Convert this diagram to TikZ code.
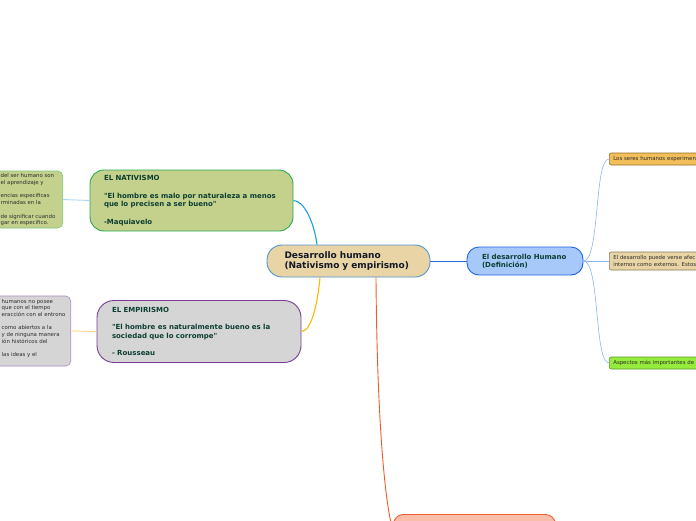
\documentclass[tikz,border=0pt]{standalone}
\usepackage{fontspec}
\setmainfont{DejaVu Sans}
\definecolor{inkgreen}{RGB}{12, 62, 50}
\definecolor{inkgray}{RGB}{45, 45, 45}
\definecolor{cenink}{RGB}{20, 25, 40}
\definecolor{cenfill}{RGB}{232, 212, 164}
\definecolor{cenline}{RGB}{80, 150, 210}
\definecolor{natfill}{RGB}{196, 209, 140}
\definecolor{natline}{RGB}{40, 170, 80}
\definecolor{natpale}{RGB}{120, 200, 120}
\definecolor{empfill}{RGB}{213, 213, 213}
\definecolor{empline}{RGB}{120, 60, 150}
\definecolor{emppale}{RGB}{170, 140, 190}
\definecolor{defifill}{RGB}{166, 201, 250}
\definecolor{defiline}{RGB}{30, 100, 220}
\definecolor{salfill}{RGB}{248, 190, 170}
\definecolor{salline}{RGB}{240, 95, 50}
\definecolor{topfill}{RGB}{242, 190, 90}
\definecolor{topline}{RGB}{150, 110, 40}
\definecolor{midline}{RGB}{140, 120, 90}
\definecolor{botfill}{RGB}{150, 235, 60}
\definecolor{botline}{RGB}{90, 150, 40}
\definecolor{natlink}{RGB}{27, 160, 225}
\definecolor{emplink}{RGB}{250, 185, 0}
\definecolor{sallink}{RGB}{240, 90, 40}
\definecolor{defilink}{RGB}{35, 110, 220}
\definecolor{leaflink}{RGB}{140, 180, 240}
\definecolor{natleaflink}{RGB}{170, 215, 240}
\definecolor{empleaflink}{RGB}{250, 215, 130}
\usetikzlibrary{arrows.meta, positioning}

\begin{document}
\begin{tikzpicture}[x=1pt, y=-1pt,
            b/.style={rounded corners=14pt, line width=0.9pt,
                      font=\fontsize{7}{8.7}\selectfont\bfseries, text=inkgreen,
                      align=left, inner ysep=0pt},
            nt/.style={font=\fontsize{5.4}{6.7}\selectfont, text=inkgray,
                       align=left, inner sep=0pt, anchor=west},
            lf/.style={rounded corners=2pt, line width=0.6pt,
                       font=\fontsize{5.4}{7}\selectfont, text=inkgray, align=left,
                       inner xsep=4pt, inner ysep=0pt, text width=100pt, anchor=west},
            a/.style={line width=1.1pt}
          ]
          \useasboundingbox (0,0) rectangle (696,520);
          \clip (0,0) rectangle (696,520);
          \node[b, fill=cenfill, draw=cenline, rounded corners=15pt, minimum height=32pt,
                text width=128pt, inner xsep=17.5pt, text=cenink,
                font=\fontsize{9}{9.5}\selectfont\bfseries] (cen) at (348.5,261)
                {Desarrollo humano\\(Nativismo y empirismo)};
          \node[b, fill=natfill, draw=natline, minimum height=61pt,
                text width=175pt, inner xsep=14pt] (nat) at (191.5,200.5)
                {EL NATIVISMO\\[8.7pt]\textquotedbl El hombre es malo por naturaleza a menos\\que lo precisen a ser bueno\textquotedbl\\[8.7pt]-Maquiavelo};
          \node[b, fill=empfill, draw=empline, rounded corners=17pt, minimum height=62pt,
                text width=174pt, inner xsep=15pt] (emp) at (199,331.5)
                {EL EMPIRISMO\\[8.6pt]\textquotedbl El hombre es naturalmente bueno es la\\sociedad que lo corrompe\textquotedbl\\[8.6pt]- Rousseau};
          \node[b, fill=defifill, draw=defiline, rounded corners=12pt, minimum height=28pt,
                text width=86pt, inner xsep=15pt, font=\fontsize{7}{8}\selectfont\bfseries] (defi) at (525,261)
                {El desarrollo Humano\\(Definición)};
          \node[draw=natpale, fill=natfill, rounded corners=5pt, line width=0.6pt,
                minimum width=90pt, minimum height=57pt, anchor=east] (natleaf) at (63,199.5) {};
          \node[nt] (natnote) at (0.5,199.8)
                {del ser humano son\\el aprendizaje y\\[6.7pt]encias especificas\\rminadas en la\\[6.7pt]de significar cuando\\gar en especifico.};
          \node[draw=emppale, fill=empfill, rounded corners=5pt, line width=0.6pt,
                minimum width=100pt, minimum height=70pt, anchor=east] (empleaf) at (71,331) {};
          \node[nt] (empnote) at (1.5,328.5)
                {humanos no posee\\que con el tiempo\\eracción con el entrono\\[6.6pt]como abiertos a la\\y de ninguna manera\\ión históricos del\\[6.6pt]las ideas y el};
          \node[draw=salline, fill=salfill, rounded corners=10pt, line width=0.9pt,
                minimum width=162pt, minimum height=32pt, anchor=north west] (sal) at (393,514) {};
          \node[lf, fill=topfill, draw=topline, minimum height=12pt] (ltop) at (609,159)
                {Los seres humanos experimen};
          \node[lf, fill=cenfill, draw=midline, minimum height=18pt] (lmid) at (609,261)
                {El desarrollo puede verse afec\\internos como externos. Estos};
          \node[lf, fill=botfill, draw=botline, minimum height=12pt] (lbot) at (609,363)
                {Aspectos más importantes de};
          \draw[a, natlink] (nat.east) .. controls (304,200.5) and (314,222) .. ([xshift=-31.5pt]cen.north);
          \draw[a, emplink] (emp.east) .. controls (312,331.5) and (318,300) .. ([xshift=-28.5pt]cen.south);
          \draw[a, sallink, line width=0.9pt] ([xshift=27.5pt]cen.south) .. controls (377,420) and (385,505) .. (sal.west);
          \draw[defilink, line width=1pt] (cen.east) -- (defi.west);
          \draw[line width=0.9pt, natleaflink] (natleaf.east) -- (nat.west);
          \draw[line width=0.9pt, empleaflink] (empleaf.east) -- (emp.west);
          \draw[line width=0.6pt, leaflink] (defi.east) .. controls (600,261) and (594,159) .. (ltop.west);
          \draw[line width=0.6pt, leaflink] (defi.east) -- (lmid.west);
          \draw[line width=0.6pt, leaflink] (defi.east) .. controls (600,261) and (594,363) .. (lbot.west);
        \end{tikzpicture}
\end{document}
